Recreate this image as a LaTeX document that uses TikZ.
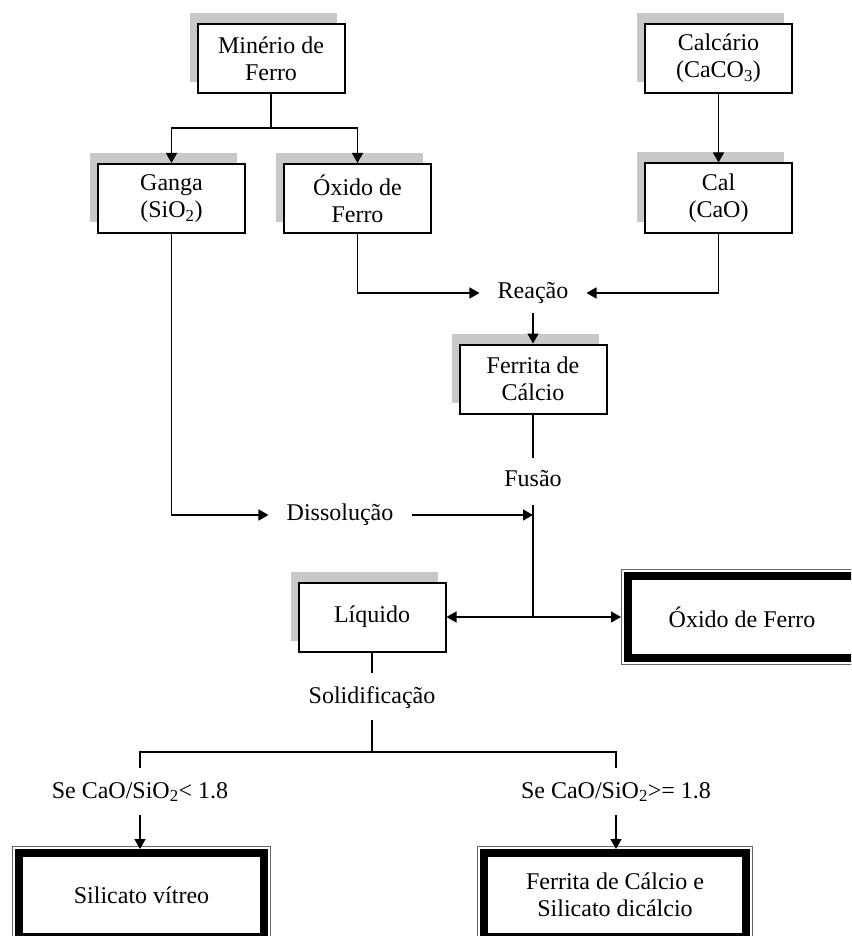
\documentclass[tikz,border=0pt]{standalone}
\usepackage{fontspec}
\setmainfont{Liberation Serif}
\usetikzlibrary{arrows.meta,shadows}
\definecolor{shadowgray}{RGB}{200,200,200}
\begin{document}
\begin{tikzpicture}[x=1pt,y=-1pt,
  font=\fontsize{24}{27}\selectfont,
  box/.style={draw, line width=2pt, fill=white, align=center, inner sep=2pt,
     minimum width=147pt, minimum height=69pt,
     general shadow={fill=shadowgray, shadow xshift=-8pt, shadow yshift=11pt}},
  heavy/.style={draw, line width=8pt, fill=white, align=center},
  outline/.style={line width=1pt, draw=black!60},
  lbl/.style={inner xsep=18pt, inner ysep=2pt},
  conn/.style={line width=1.5pt},
  arr/.style={conn, -{Triangle[length=10pt,width=11pt]}},
]
\clip (0,0) rectangle (851,936);

% boxes with shadow
\node[box] (min)  at (271,58.5)   {Minério de\\Ferro};
\node[box] (gan)  at (171.5,198.5) {Ganga\\(SiO\textsubscript{2})};
\node[box] (oxa)  at (357.5,198.5) {Óxido de\\Ferro};
\node[box] (calc) at (718.5,58.5)  {Calcário\\(CaCO\textsubscript{3})};
\node[box] (cal)  at (718.5,198)   {Cal\\(CaO)};
\node[box] (fer)  at (533,379)     {Ferrita de\\Cálcio};
\node[box] (liq)  at (372,617)     {Líquido};

% plain labels
\node[lbl] (rea) at (533,293) {Reação};
\node[lbl] (fus) at (533,479) {Fusão};
\node[lbl] (dis) at (340,515) {Dissolução};
\node[lbl] (sol) at (372,698) {Solidificação};
\node[lbl] (cl)  at (140,792) {Se CaO/SiO\textsubscript{2}< 1.8};
\node[lbl] (cr)  at (616,792) {Se CaO/SiO\textsubscript{2}>= 1.8};

% heavy-bordered result boxes
\node[heavy, minimum width=228pt, minimum height=81.5pt] (oxb) at (742,617) {Óxido de Ferro};
\node[heavy, minimum width=245pt, minimum height=84pt] (sil) at (141.5,895) {Silicato vítreo};
\node[heavy, minimum width=262pt, minimum height=84pt] (fcs) at (615,895) {Ferrita de Cálcio e\\Silicato dicálcio};
\foreach \n in {oxb,sil,fcs}
  \draw[outline] ([shift={(-2.5pt,2.5pt)}]\n.north west) rectangle ([shift={(2.5pt,-2.5pt)}]\n.south east);

% connectors
\coordinate (j1) at (min.south |- 0,128);
\draw[conn] (min.south) -- (j1);
\draw[arr] (j1) -| (gan.north);
\draw[arr] (j1) -| (oxa.north);
\draw[arr] (calc.south) -- (cal.north);
\draw[arr] (oxa.south) |- (rea.west);
\draw[arr] (cal.south) |- (rea.east);
\draw[arr] ([yshift=-20pt]rea.center) -- (fer.north);
\draw[conn] (fer.south) -- ([yshift=21pt]fus.center);
\coordinate (j2) at (fer.south |- liq.east);
\draw[conn] ([yshift=-26pt]fus.center) -- (j2);
\draw[arr] (gan.south) |- (dis.west);
\draw[arr] (dis.east) -- (dis.east -| j2);
\draw[arr] (j2) -- (liq.east);
\draw[arr] (j2) -- ([xshift=-3pt]oxb.west);
\draw[conn] (liq.south) -- ([yshift=25pt]sol.center);
\coordinate (j3) at (liq.south |- 0,752);
\draw[conn] ([yshift=-22pt]sol.center) -- (j3);
\draw[conn] (j3) -| ([yshift=24pt]cl.center);
\draw[conn] (j3) -| ([yshift=24pt]cr.center);
\draw[arr] ([yshift=-23pt]cl.center) -- (cl.center |- sil.north);
\draw[arr] ([yshift=-23pt]cr.center) -- (cr.center |- fcs.north);
\end{tikzpicture}
\end{document}
